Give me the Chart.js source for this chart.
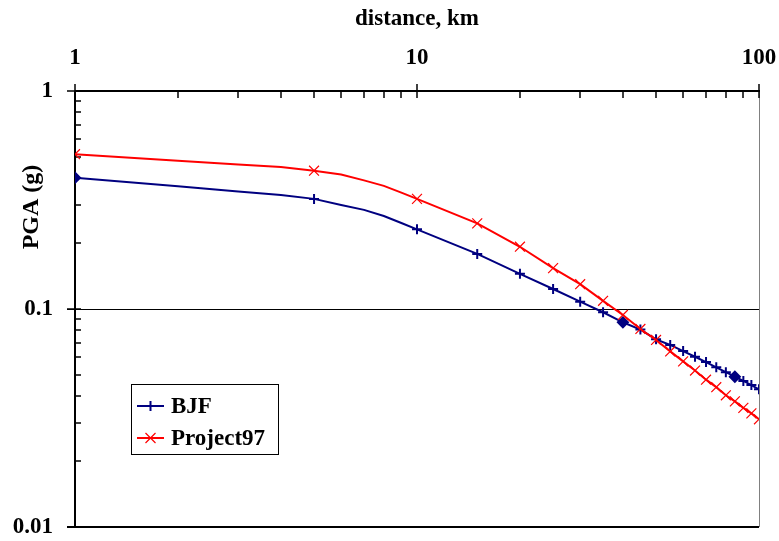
<!DOCTYPE html>
<html><head><meta charset="utf-8">
<script src="https://cdn.jsdelivr.net/npm/chart.js@4/dist/chart.umd.min.js"></script>
<style>html,body{margin:0;padding:0;background:#fff}#wrap{position:relative;width:779px;height:541px}</style>
</head><body><div id="wrap"><canvas id="c" width="779" height="541"></canvas></div>
<script>
// ---- data ----
const distances = [1, 2, 3, 4, 5, 6, 7, 8, 9, 10, 15, 20, 25, 30, 35, 40, 45, 50, 55, 60, 65, 70, 75, 80, 85, 90, 95, 100];
const bjf = [0.400, 0.366, 0.346, 0.333, 0.320, 0.300, 0.285, 0.267, 0.248, 0.232, 0.179, 0.145, 0.1235, 0.108, 0.0966, 0.0869, 0.0805, 0.0726, 0.0684, 0.0641, 0.0604, 0.0571, 0.0540, 0.0513, 0.0489, 0.0468, 0.0448, 0.0428];
const project97 = [0.513, 0.479, 0.460, 0.448, 0.431, 0.414, 0.389, 0.367, 0.342, 0.320, 0.247, 0.193, 0.154, 0.130, 0.109, 0.0939, 0.0810, 0.0721, 0.0639, 0.0575, 0.0522, 0.0474, 0.0438, 0.0402, 0.0377, 0.0352, 0.0332, 0.0312];
const markedDistances = [1, 5, 10, 15, 20, 25, 30, 35, 40, 45, 50, 55, 60, 65, 70, 75, 80, 85, 90, 95, 100];
const bjfDiamondDistances = [1, 40, 85];
const seriesNames = ['BJF', 'Project97'];
const xTitle = 'distance, km';
const yTitle = 'PGA (g)';
const xTickValues = [1, 2, 3, 4, 5, 6, 7, 8, 9, 10, 20, 30, 40, 50, 60, 70, 80, 90, 100];
const xTickLabels = ['1', '10', '100'];
const yTickValues = [0.01, 0.02, 0.03, 0.04, 0.05, 0.06, 0.07, 0.08, 0.09, 0.1, 0.2, 0.3, 0.4, 0.5, 0.6, 0.7, 0.8, 0.9, 1];
const yTickLabels = ['0.01', '0.1', '1'];

const FONT = "'Liberation Serif','Times New Roman',serif";
const BLUE = '#000080', RED = '#ff0000';

function labelFor(list, v) {
  const hit = list.find(l => Math.abs(parseFloat(l) - v) < 1e-9 * Math.max(1, v));
  return hit === undefined ? '' : hit;
}
const isMarked = d => markedDistances.includes(d);

const frame = {
  id: 'frame',
  beforeDatasetsDraw(chart) {
    const {ctx, chartArea: a, scales: {x, y}} = chart;
    ctx.save();
    const L = Math.round(a.left), R = Math.round(a.right), T = Math.round(a.top), B = Math.round(a.bottom);
    // 0.1 gridline
    ctx.strokeStyle = '#000'; ctx.lineWidth = 1;
    const yg = Math.round(y.getPixelForValue(0.1)) + 0.5;
    ctx.beginPath(); ctx.moveTo(L - 8, yg); ctx.lineTo(R, yg); ctx.stroke();
    // right border
    ctx.strokeStyle = '#808080';
    ctx.beginPath(); ctx.moveTo(R + 0.5, T); ctx.lineTo(R + 0.5, B); ctx.stroke();
    // bottom border
    ctx.strokeStyle = '#000'; ctx.lineWidth = 2;
    ctx.beginPath(); ctx.moveTo(L - 8, B); ctx.lineTo(R, B); ctx.stroke();
    // left axis
    ctx.beginPath(); ctx.moveTo(L, T); ctx.lineTo(L, B); ctx.stroke();
    // top axis
    ctx.beginPath(); ctx.moveTo(L, T); ctx.lineTo(R + 1, T); ctx.stroke();
    // x ticks
    ctx.lineWidth = 1.5;
    xTickValues.forEach(v => {
      const px = Math.round(x.getPixelForValue(v));
      const major = labelFor(xTickLabels, v) !== '';
      ctx.beginPath();
      ctx.moveTo(px, major ? T - 7 : T);
      ctx.lineTo(px, T + 7);
      ctx.stroke();
    });
    // y ticks
    yTickValues.forEach(v => {
      const py = Math.round(y.getPixelForValue(v));
      const major = labelFor(yTickLabels, v) !== '';
      ctx.beginPath();
      ctx.moveTo(major ? L - 8 : L, py);
      ctx.lineTo(L + 6, py);
      ctx.stroke();
    });
    ctx.restore();
  },
  afterDraw(chart) {
    const {ctx} = chart;
    ctx.save();
    // y title
    ctx.fillStyle = '#000';
    ctx.font = 'bold 24px ' + FONT;
    ctx.textAlign = 'center'; ctx.textBaseline = 'middle';
    ctx.translate(32, 207); ctx.rotate(-Math.PI / 2);
    ctx.fillText(yTitle, 0, 0);
    ctx.restore();
    // legend
    ctx.save();
    const bx = 131, by = 384, bw = 147, bh = 70;
    ctx.fillStyle = '#fff'; ctx.fillRect(bx, by, bw, bh);
    ctx.strokeStyle = '#000'; ctx.lineWidth = 1;
    ctx.strokeRect(bx + 0.5, by + 0.5, bw, bh);
    const rows = [by + 22, by + 54];
    const colors = [BLUE, RED];
    rows.forEach((ry, i) => {
      ctx.strokeStyle = colors[i]; ctx.lineWidth = 2;
      ctx.beginPath(); ctx.moveTo(137, ry); ctx.lineTo(164, ry); ctx.stroke();
      const cx = 150.5;
      ctx.beginPath();
      if (i === 0) {
        ctx.moveTo(cx, ry - 5); ctx.lineTo(cx, ry + 5);
        ctx.moveTo(cx - 5, ry); ctx.lineTo(cx + 5, ry);
      } else {
        ctx.lineWidth = 1.2;
        ctx.moveTo(cx - 5, ry - 5); ctx.lineTo(cx + 5, ry + 5);
        ctx.moveTo(cx - 5, ry + 5); ctx.lineTo(cx + 5, ry - 5);
      }
      ctx.stroke();
      ctx.fillStyle = '#000';
      ctx.font = 'bold 23px ' + FONT;
      ctx.textAlign = 'left'; ctx.textBaseline = 'middle';
      ctx.fillText(seriesNames[i], 171, ry + 1);
    });
    ctx.restore();
  }
};

const toPts = vals => distances.map((d, i) => ({x: d, y: vals[i]}));

new Chart(document.getElementById('c'), {
  type: 'line',
  data: {
    datasets: [
      {
        label: seriesNames[0], data: toPts(bjf), order: 1,
        borderColor: BLUE, backgroundColor: BLUE, borderWidth: 2, tension: 0,
        pointStyle: c => bjfDiamondDistances.includes(distances[c.dataIndex]) ? 'rectRot' : 'cross',
        pointRadius: c => isMarked(distances[c.dataIndex]) ? 5 : 0,
        pointBorderWidth: 2, pointBorderColor: BLUE, pointBackgroundColor: BLUE
      },
      {
        label: seriesNames[1], data: toPts(project97), order: 0,
        borderColor: RED, backgroundColor: RED, borderWidth: 2, tension: 0,
        pointStyle: 'crossRot',
        pointRadius: c => isMarked(distances[c.dataIndex]) ? 7 : 0,
        pointBorderWidth: 1.2, pointBorderColor: RED
      }
    ]
  },
  options: {
    responsive: false, animation: false, events: [],
    layout: {padding: {left: 0, top: 0, right: 20, bottom: 14}},
    plugins: {legend: {display: false}, tooltip: {enabled: false}},
    scales: {
      x: {
        type: 'logarithmic', position: 'top', min: 1, max: 100,
        afterBuildTicks: s => { s.ticks = xTickValues.map(v => ({value: v})); },
        afterFit: s => { s.height = 91; s.paddingLeft = 0; s.paddingRight = 0; },
        grid: {display: false, drawTicks: false}, border: {display: false},
        ticks: {
          autoSkip: false, maxRotation: 0, minRotation: 0, padding: 19, color: '#000',
          font: {family: FONT, size: 23, weight: 'bold'},
          callback: v => labelFor(xTickLabels, v)
        },
        title: {display: true, text: xTitle, color: '#000', padding: {top: 5, bottom: 0},
          font: {family: FONT, size: 23, weight: 'bold'}}
      },
      y: {
        type: 'logarithmic', position: 'left', min: 0.01, max: 1,
        afterBuildTicks: s => { s.ticks = yTickValues.map(v => ({value: v})); },
        afterFit: s => { s.width = 75; s.paddingTop = 0; s.paddingBottom = 0; },
        grid: {display: false, drawTicks: false}, border: {display: false},
        ticks: {
          autoSkip: false, padding: 22, color: '#000',
          font: {family: FONT, size: 23, weight: 'bold'},
          callback: v => labelFor(yTickLabels, v)
        }
      }
    }
  },
  plugins: [frame]
});
</script></body></html>
